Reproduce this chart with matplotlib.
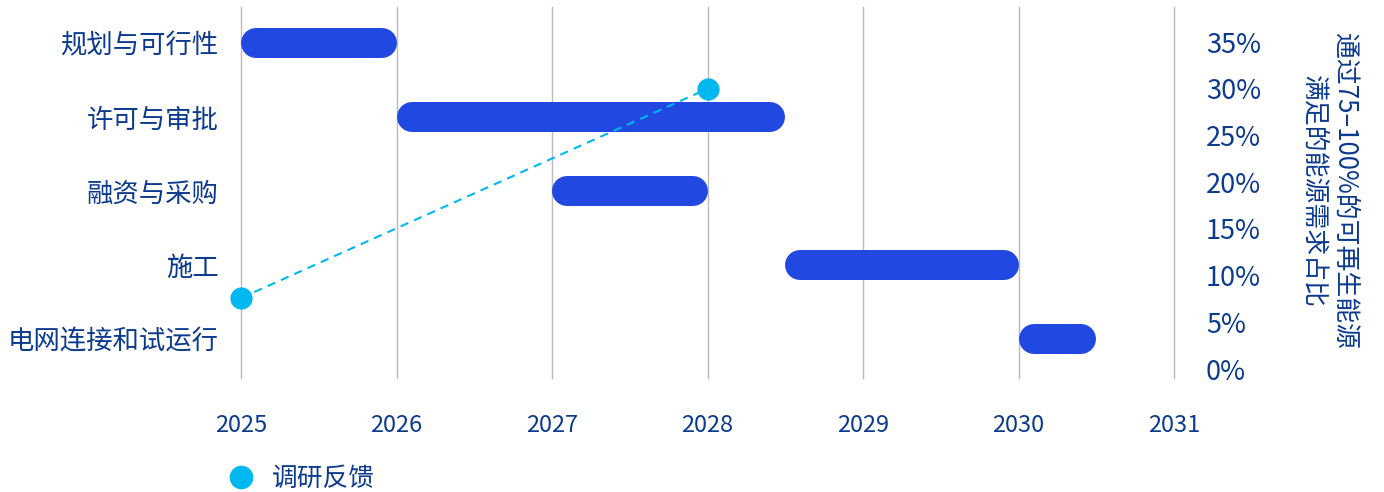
import matplotlib.pyplot as plt
from matplotlib.lines import Line2D

plt.rcParams['font.family'] = ['Noto Sans CJK SC', 'DejaVu Sans']

# 数据
phases = ["规划与可行性", "许可与审批", "融资与采购", "施工", "电网连接和试运行"]
start = [2025.0, 2026.0, 2027.0, 2028.5, 2030.0]
end = [2026.0, 2028.5, 2028.0, 2030.0, 2030.5]
survey_years = [2025, 2028]
survey_share = [7.6, 30.0]
years = [2025, 2026, 2027, 2028, 2029, 2030, 2031]
pct_ticks = [0, 5, 10, 15, 20, 25, 30, 35]

bar_color = "#2149E1"
dot_color = "#00B8F0"
text_color = "#0B3A8E"

fig = plt.figure(figsize=(13.84, 4.92), dpi=100)
ax = fig.add_axes([241 / 1384, 1 - 378 / 492, (1174 - 241) / 1384, (378 - 7) / 492])

ax.set_xlim(2025, 2031)
ax.set_ylim(4.53, -0.49)

# 圆角条：粗线加圆头，端点向内收半个线宽
bar_px = 30
px_per_year = (1174 - 241) / 6
r = bar_px / 2 / px_per_year
for i, (s, e) in enumerate(zip(start, end)):
    ax.plot([s + r, e - r], [i, i], color=bar_color, lw=bar_px * 72 / 100,
            solid_capstyle="round", zorder=3)

ax.set_xticks(years)
ax.set_xticklabels([str(y) for y in years])
ax.set_yticks(range(len(phases)))
ax.set_yticklabels(phases)
ax.tick_params(axis="x", length=0, pad=26, labelsize=17, labelcolor=text_color)
ax.tick_params(axis="y", length=0, pad=16, labelsize=19, labelcolor=text_color)
for y in years:
    ax.axvline(y, color="#BBBBBB", lw=1, zorder=1, clip_on=False)
for sp in ax.spines.values():
    sp.set_visible(False)

ax2 = ax.twinx()
ax2.set_ylim(-0.96, 38.75)
ax2.plot(survey_years, survey_share, color=dot_color, ls=(0, (4, 3)), lw=1.5,
         marker="o", markersize=15, zorder=5, clip_on=False)
ax2.set_yticks(pct_ticks)
ax2.set_yticklabels([f"{p}%" for p in pct_ticks])
ax2.tick_params(axis="y", length=0, pad=23, labelsize=19.5, labelcolor=text_color)
for sp in ax2.spines.values():
    sp.set_visible(False)

fig.text(1329 / 1384, 1 - 191 / 492, "通过75–100%的可再生能源\n满足的能源需求占比",
         rotation=-90, ha="center", va="center", fontsize=18.6, color=text_color,
         linespacing=1.2)

handle = Line2D([], [], color=dot_color, marker="o", markersize=16, ls="none")
fig.legend([handle], ["调研反馈"], loc="center left",
           bbox_to_anchor=(192 / 1384, 1 - 479 / 492), frameon=False,
           fontsize=18.5, labelcolor=text_color, handletextpad=0.2)

fig.savefig("out.png", dpi=100)
